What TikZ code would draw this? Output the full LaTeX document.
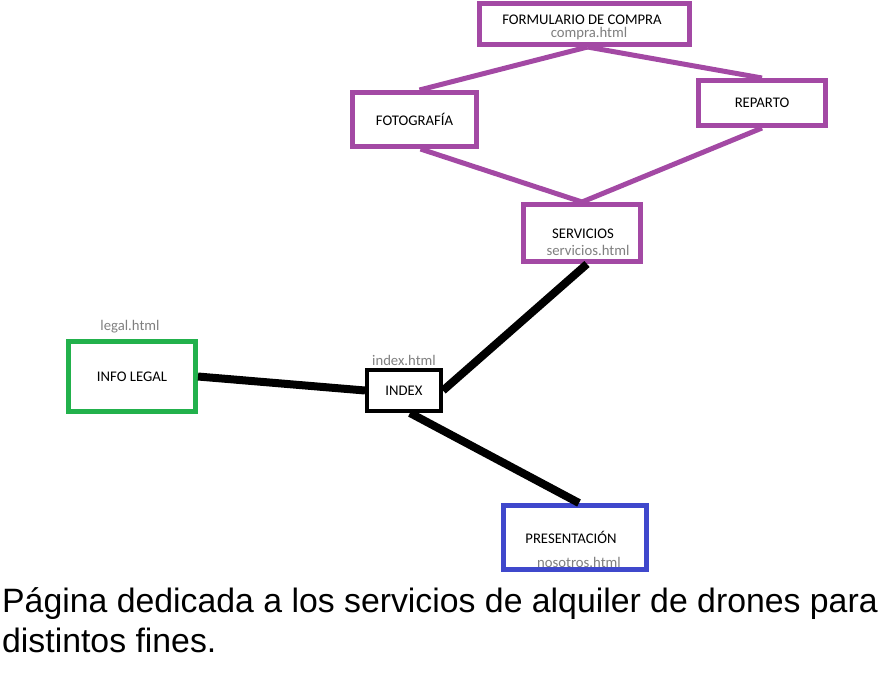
\documentclass[tikz,border=0pt]{standalone}
\usepackage{fontspec}
\setmainfont{Carlito}
\newfontfamily\arial{Liberation Sans}
\definecolor{morado}{RGB}{163,73,164}
\definecolor{verde}{RGB}{34,177,76}
\definecolor{azul}{RGB}{63,72,204}
\definecolor{gris}{RGB}{127,127,127}
\begin{document}
\begin{tikzpicture}[
    x=1pt, y=-1pt,
    every node/.style={font=\fontsize{14.7}{16}\selectfont, inner sep=0pt},
    caja/.style={rectangle, draw=#1, line width=5pt, fill=white},
    caja/.default=black,
    url/.style={text=gris},
    enlace/.style={line width=8pt},
    rama/.style={morado, line width=5pt},
    texto/.style={font=\arial\fontsize{33.8}{40}\selectfont, anchor=base west}
    ]
    \useasboundingbox (0,0) rectangle (896,681);
    % paginas
    \node[caja=morado, minimum width=210pt, minimum height=41pt] (formulario) at (584.5,24) {};
    \node (formtit) at (582,20) {FORMULARIO DE COMPRA};
    \node[url] (compra) at (589,34) {compra.html};
    \node[caja=morado, minimum width=124pt, minimum height=54pt] (fotografia) at (414.5,119.5) {FOTOGRAFÍA};
    \node[caja=morado, minimum width=127pt, minimum height=45pt] (reparto) at (762,103) {REPARTO};
    \node[caja=morado, minimum width=117pt, minimum height=57pt] (servicios) at (582,233) {};
    \node (servtit) at (583,234) {SERVICIOS};
    \node[url] (servurl) at (588,250) {servicios.html};
    \node[caja=verde, minimum width=127pt, minimum height=70pt] (legal) at (132,376.5) {INFO LEGAL};
    \node[url] (legalurl) at (130,327) {legal.html};
    \node[caja, line width=4pt, minimum width=74pt, minimum height=41pt] (indice) at (404,390.5) {INDEX};
    \node[url] (indiceurl) at (404,360) {index.html};
    \node[caja=azul, minimum width=143pt, minimum height=64pt] (presentacion) at (575,537.5) {};
    \node (prestit) at (571,537) {PRESENTACIÓN};
    \node[url] (nosotros) at (579,562) {nosotros.html};
    % conexiones
    \draw[rama] ([xshift=3pt]formulario.south) -- ([xshift=5pt]fotografia.north);
    \draw[rama] ([xshift=3pt]formulario.south) -- (reparto.north);
    \draw[rama] ([xshift=6pt]fotografia.south) -- (servicios.north);
    \draw[rama] (reparto.south) -- (servicios.north);
    \draw[enlace] (legal.east) -- (indice.west);
    \draw[enlace] (indice.east) -- ([xshift=5pt]servicios.south);
    \draw[enlace] ([xshift=6pt]indice.south) -- ([xshift=4pt]presentacion.north);
    % descripcion
    \node[texto] (linea1) at (2,612) {Página dedicada a los servicios de alquiler de drones para};
    \node[texto] (linea2) at (2,652) {distintos fines.};
\end{tikzpicture}
\end{document}
